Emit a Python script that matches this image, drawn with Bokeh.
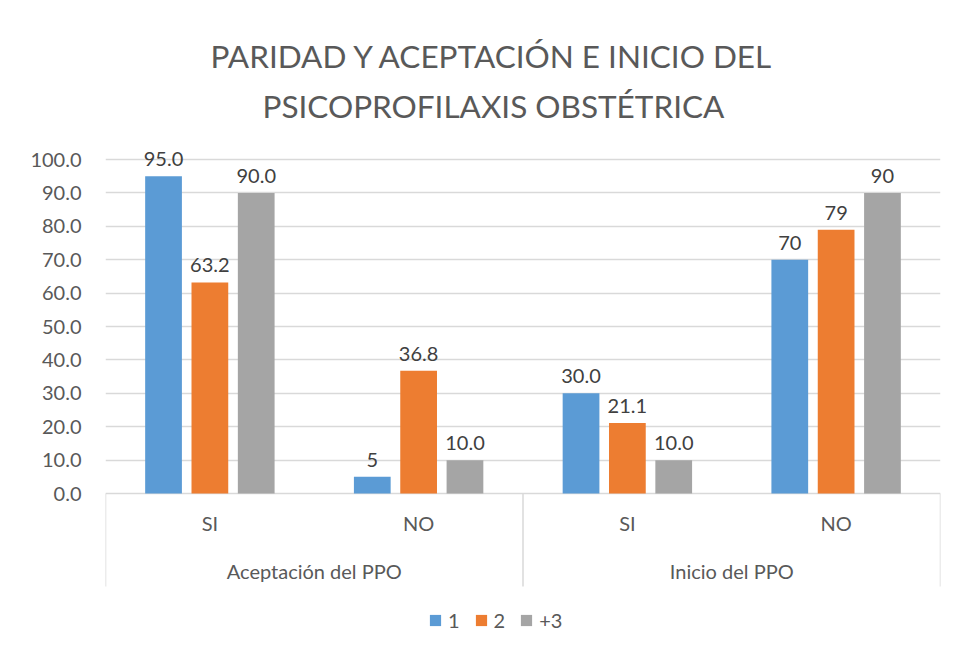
from bokeh.plotting import figure
from bokeh.models import (ColumnDataSource, FactorRange, Range1d, FixedTicker,
                          NumeralTickFormatter, Legend, LegendItem, Title)
from bokeh.transform import dodge
from bokeh.core.properties import value
from bokeh.embed import file_html
from bokeh.resources import INLINE

# ---- data ----
groups = ["Aceptación del PPO", "Inicio del PPO"]
answers = ["SI", "NO"]
series_names = ["1", "2", "+3"]
vals_1 = [95.0, 5.0, 30.0, 70.0]
vals_2 = [63.2, 36.8, 21.1, 79.0]
vals_3 = [90.0, 10.0, 10.0, 90.0]
labels_1 = ["95.0", "5", "30.0", "70"]
labels_2 = ["63.2", "36.8", "21.1", "79"]
labels_3 = ["90.0", "10.0", "10.0", "90"]
y_ticks = [0, 10, 20, 30, 40, 50, 60, 70, 80, 90, 100]
title_lines = ["PARIDAD Y ACEPTACIÓN E INICIO DEL", "PSICOPROFILAXIS OBSTÉTRICA"]

colors = ["#5B9BD5", "#ED7D31", "#A5A5A5"]
FONT = "Lato"
TXT = "#595959"
GRID = "#D9D9D9"

factors = [(g, a) for g in groups for a in answers]
src = ColumnDataSource(dict(x=factors, v1=vals_1, v2=vals_2, v3=vals_3,
                            l1=labels_1, l2=labels_2, l3=labels_3,
                            ans=[a for g in groups for a in answers]))
gsrc = ColumnDataSource(dict(x=groups, text=groups))

x_range = FactorRange(factors=factors, range_padding=0, factor_padding=0,
                      group_padding=0, subgroup_padding=0)
y_range = Range1d(-45.5, 107.2)
AXIS_BOTTOM = -27.8  # lower end of the category-axis separators

p = figure(width=950, height=645, x_range=x_range, y_range=y_range,
           output_backend="svg", toolbar_location=None,
           min_border_left=105, min_border_right=10, min_border_top=135,
           min_border_bottom=0, background_fill_color="white",
           border_fill_color="white", outline_line_color=None)

# titles (later added = further from plot)
p.add_layout(Title(text=title_lines[1], align="left", text_font=FONT,
                   text_font_size="31.5px", text_font_style="normal",
                   text_color=TXT, offset=157, standoff=21), "above")
p.add_layout(Title(text=title_lines[0], align="left", text_font=FONT,
                   text_font_size="31.5px", text_font_style="normal",
                   text_color=TXT, offset=105, standoff=0), "above")

# axes
p.xaxis.visible = False
yax = p.yaxis[0]
yax.ticker = FixedTicker(ticks=y_ticks)
yax.formatter = NumeralTickFormatter(format="0.0")
yax.axis_line_color = None
yax.major_tick_line_color = None
yax.minor_tick_line_color = None
yax.major_tick_out = 0
yax.major_tick_in = 0
yax.major_label_standoff = 24
yax.major_label_text_font = FONT
yax.major_label_text_font_size = "20px"
yax.major_label_text_color = TXT

p.xgrid.visible = False
p.ygrid.ticker = FixedTicker(ticks=y_ticks)
p.ygrid.grid_line_color = GRID
p.ygrid.grid_line_width = 1.5

# category separators in the axis area
p.segment(x0=[0, 2, 4], y0=[0, 0, 0], x1=[0, 2, 4], y1=[AXIS_BOTTOM] * 3,
          line_color=GRID, line_width=1.5)

offsets = [-0.222, 0.0, 0.222]
renderers = []
for i, (vcol, lcol) in enumerate([("v1", "l1"), ("v2", "l2"), ("v3", "l3")]):
    r = p.vbar(x=dodge("x", offsets[i], range=p.x_range), top=vcol, bottom=0,
               width=0.176, source=src, fill_color=colors[i], line_color=None)
    renderers.append(r)
    p.text(x=dodge("x", offsets[i], range=p.x_range), y=vcol, text=lcol,
           source=src, text_align="center", text_baseline="alphabetic",
           y_offset=-17, text_font=value(FONT), text_font_size="20px",
           text_color="#404040")

# category labels (inner and outer level)
p.text(x="x", y=-8.7, text="ans", source=src, text_align="center",
       text_baseline="middle", text_font=value(FONT), text_font_size="20px",
       text_color=TXT)
p.text(x="x", y=-23.1, text="text", source=gsrc, text_align="center",
       text_baseline="middle", text_font=value(FONT), text_font_size="20px",
       text_color=TXT)

legend = Legend(items=[LegendItem(label=series_names[i], renderers=[renderers[i]])
                       for i in range(3)],
                orientation="horizontal", location=(323, 13),
                glyph_width=14, glyph_height=14, label_standoff=6, spacing=14,
                label_width=5, label_height=20, padding=0, margin=0,
                label_text_font=FONT, label_text_font_size="20px",
                label_text_color=TXT, border_line_color=None,
                background_fill_alpha=0)
p.add_layout(legend, "center")

open("out.html", "w").write(file_html(p, INLINE))
